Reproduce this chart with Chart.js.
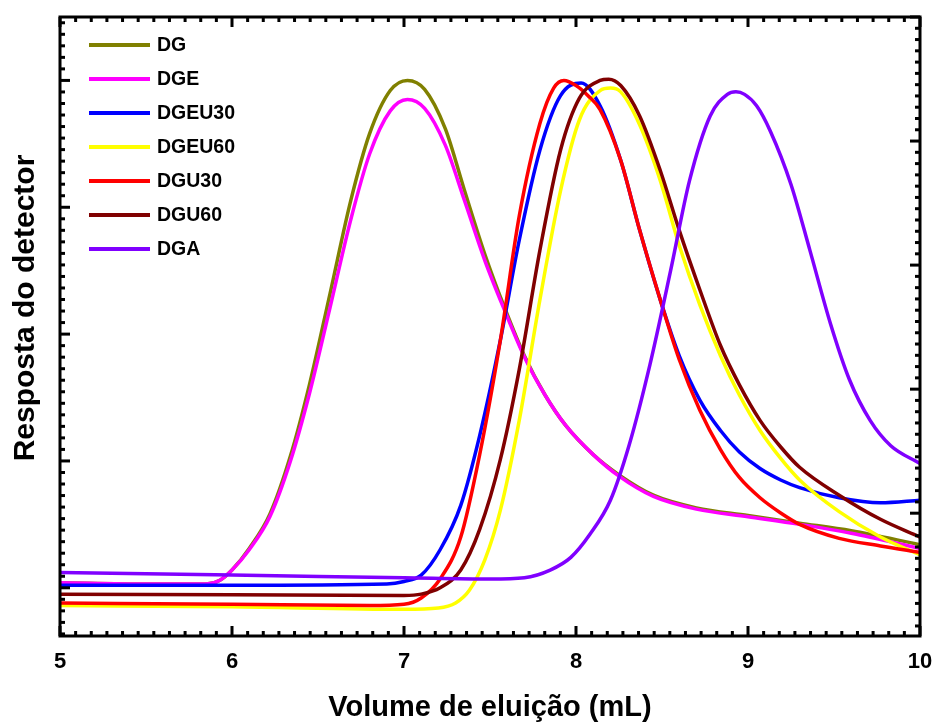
<!DOCTYPE html>
<html lang="pt">
<head>
<meta charset="UTF-8">
<title>Resposta do detector</title>
<script src="https://cdn.jsdelivr.net/npm/chart.js"></script>
<style>
  body { margin: 0; background: #fff; }
</style>
</head>
<body>
<canvas id="gpc" width="938" height="722"></canvas>
<script>
// series labels and colours
const seriesNames = ['DG', 'DGE', 'DGEU30', 'DGEU60', 'DGU30', 'DGU60', 'DGA'];
const seriesColors = ['#808000', '#ff00ff', '#0000ff', '#ffff00', '#ff0000', '#800000', '#8000ff'];

// x tick labels (mL)
const xTicks = [5, 6, 7, 8, 9, 10];

// elution volume (mL) / detector response
const dgX = [5.0, 5.5, 5.85, 5.93, 6.0, 6.1, 6.22, 6.34, 6.45, 6.57, 6.69, 6.8, 6.92, 7.02, 7.12, 7.24, 7.35, 7.47, 7.59, 7.7, 7.82, 7.94, 8.1, 8.25, 8.45, 8.7, 9.0, 9.3, 9.6, 10.0];
const dgY = [0.04, 0.03, 0.03, 0.06, 0.14, 0.31, 0.58, 1.04, 1.6, 2.32, 3.05, 3.58, 3.92, 4.00, 3.93, 3.62, 3.14, 2.63, 2.19, 1.83, 1.52, 1.28, 1.05, 0.89, 0.73, 0.63, 0.57, 0.51, 0.45, 0.34];

const dgeX = dgX;
const dgeY = [0.04, 0.03, 0.03, 0.06, 0.14, 0.30, 0.56, 1.0, 1.53, 2.21, 2.9, 3.42, 3.76, 3.85, 3.78, 3.49, 3.06, 2.58, 2.17, 1.82, 1.52, 1.28, 1.05, 0.88, 0.72, 0.62, 0.56, 0.50, 0.43, 0.31];

const dgeu30X = [5.0, 6.0, 6.9, 7.0, 7.1, 7.21, 7.33, 7.44, 7.56, 7.67, 7.79, 7.91, 8.03, 8.14, 8.26, 8.37, 8.49, 8.6, 8.72, 8.84, 8.95, 9.07, 9.19, 9.3, 9.53, 9.77, 10.0];
const dgeu30Y = [0.02, 0.02, 0.03, 0.05, 0.10, 0.30, 0.65, 1.20, 1.95, 2.74, 3.45, 3.88, 3.98, 3.80, 3.37, 2.82, 2.27, 1.83, 1.48, 1.24, 1.07, 0.94, 0.85, 0.79, 0.71, 0.67, 0.69];

const dgeu60X = [5.0, 6.0, 7.0, 7.2, 7.3, 7.38, 7.47, 7.56, 7.67, 7.79, 7.91, 8.02, 8.14, 8.2, 8.26, 8.37, 8.49, 8.6, 8.72, 8.84, 8.95, 9.07, 9.19, 9.3, 9.53, 9.77, 10.0];
const dgeu60Y = [-0.14, -0.15, -0.17, -0.16, -0.12, -0.02, 0.22, 0.61, 1.32, 2.27, 3.13, 3.69, 3.92, 3.94, 3.91, 3.65, 3.21, 2.70, 2.23, 1.83, 1.52, 1.24, 1.02, 0.85, 0.60, 0.40, 0.26];

const dgu30X = [5.0, 6.0, 6.8, 7.0, 7.1, 7.21, 7.33, 7.44, 7.56, 7.67, 7.79, 7.87, 7.93, 8.0, 8.07, 8.14, 8.26, 8.37, 8.49, 8.6, 8.72, 8.84, 8.95, 9.07, 9.19, 9.3, 9.53, 9.77, 10.0];
const dgu30Y = [-0.12, -0.13, -0.14, -0.13, -0.08, 0.07, 0.40, 1.05, 1.95, 2.93, 3.66, 3.94, 4.00, 3.96, 3.88, 3.77, 3.37, 2.82, 2.27, 1.80, 1.40, 1.09, 0.87, 0.71, 0.59, 0.50, 0.39, 0.33, 0.28];

const dgu60X = [5.0, 6.0, 7.0, 7.1, 7.21, 7.33, 7.44, 7.56, 7.67, 7.79, 7.91, 8.02, 8.14, 8.19, 8.26, 8.37, 8.49, 8.6, 8.72, 8.84, 8.95, 9.07, 9.19, 9.3, 9.53, 9.77, 10.0];
const dgu60Y = [-0.05, -0.055, -0.06, -0.05, 0.0, 0.14, 0.46, 1.01, 1.72, 2.66, 3.45, 3.86, 4.00, 4.01, 3.96, 3.72, 3.29, 2.82, 2.35, 1.91, 1.60, 1.32, 1.11, 0.95, 0.73, 0.54, 0.40];

const dgaX = [5.0, 6.0, 7.0, 7.5, 7.7, 7.85, 7.97, 8.08, 8.2, 8.31, 8.43, 8.55, 8.66, 8.78, 8.88, 8.93, 8.98, 9.05, 9.13, 9.25, 9.36, 9.48, 9.59, 9.71, 9.83, 10.0];
const dgaY = [0.12, 0.10, 0.08, 0.07, 0.08, 0.14, 0.24, 0.42, 0.69, 1.13, 1.76, 2.50, 3.21, 3.72, 3.89, 3.91, 3.89, 3.80, 3.60, 3.18, 2.66, 2.08, 1.64, 1.32, 1.12, 0.98];

const seriesX = [dgX, dgeX, dgeu30X, dgeu60X, dgu30X, dgu60X, dgaX];
const seriesY = [dgY, dgeY, dgeu30Y, dgeu60Y, dgu30Y, dgu60Y, dgaY];

const FONT = '"Liberation Sans", Arial, sans-serif';
const yMin = -0.38, yMax = 4.5;
// right axis of the original has its own scale
const y2Min = -0.99, y2Max = 4.0;

const datasets = seriesNames.map((name, i) => ({
    label: name,
    data: seriesX[i].map((x, k) => ({ x: x, y: seriesY[i][k] })),
    borderColor: seriesColors[i],
    borderWidth: 3.5,
    pointRadius: 0,
    fill: false,
    cubicInterpolationMode: 'monotone',
    order: seriesNames.length - i   // later series drawn on top
}));

// frame, inward ticks, legend and y title
const framePlugin = {
    id: 'frame',
    afterDatasetsDraw(chart) {
        const ctx = chart.ctx;
        const a = chart.chartArea;
        const xs = chart.scales.x, ys = chart.scales.y;
        ctx.save();
        ctx.strokeStyle = '#000';
        ctx.lineWidth = 3;
        ctx.lineCap = 'butt';

        // x ticks (bottom and top)
        for (let v = 5; v <= 10; v++) {
            for (let m = 0; m < 11; m++) {
                const val = v + m / 11;
                if (val > 10.0001) break;
                const px = xs.getPixelForValue(val);
                const len = m === 0 ? 10 : 5;
                ctx.beginPath();
                ctx.moveTo(px, a.bottom); ctx.lineTo(px, a.bottom - len);
                ctx.moveTo(px, a.top); ctx.lineTo(px, a.top + len);
                ctx.stroke();
            }
        }
        // left ticks
        for (let k = Math.ceil(yMin * 11); k / 11 <= yMax; k++) {
            const py = ys.getPixelForValue(k / 11);
            const len = k % 11 === 0 ? 10 : 5;
            ctx.beginPath();
            ctx.moveTo(a.left, py); ctx.lineTo(a.left + len, py);
            ctx.stroke();
        }
        // right ticks
        const h = a.bottom - a.top;
        for (let k = Math.ceil(y2Min * 11); k / 11 <= y2Max; k++) {
            const py = a.bottom - (k / 11 - y2Min) / (y2Max - y2Min) * h;
            const len = k % 11 === 0 ? 10 : 5;
            ctx.beginPath();
            ctx.moveTo(a.right, py); ctx.lineTo(a.right - len, py);
            ctx.stroke();
        }
        ctx.strokeRect(a.left, a.top, a.right - a.left, a.bottom - a.top);

        // legend
        ctx.font = 'bold 19.5px ' + FONT;
        ctx.textBaseline = 'middle';
        ctx.fillStyle = '#000';
        chart.data.datasets.forEach((ds, i) => {
            const y = 45 + i * 34;
            ctx.strokeStyle = ds.borderColor;
            ctx.lineWidth = 4;
            ctx.beginPath();
            ctx.moveTo(89, y); ctx.lineTo(150, y);
            ctx.stroke();
            ctx.fillText(ds.label, 157, y + 1);
        });

        // y title
        ctx.translate(26, 308);
        ctx.rotate(-Math.PI / 2);
        ctx.textAlign = 'center';
        ctx.font = 'bold 30px ' + FONT;
        ctx.fillText('Resposta do detector', 0, 0);
        ctx.restore();
    }
};

new Chart(document.getElementById('gpc'), {
    type: 'line',
    data: { datasets: datasets },
    options: {
        responsive: false,
        animation: false,
        devicePixelRatio: 1,
        layout: { padding: { top: 17, right: 18, left: 0, bottom: 0 } },
        plugins: { legend: { display: false }, tooltip: { enabled: false } },
        scales: {
            x: {
                type: 'linear',
                min: 5, max: 10,
                grid: { display: false },
                border: { display: false },
                afterBuildTicks: s => { s.ticks = xTicks.map(v => ({ value: v })); },
                afterFit: s => { s.height = 86; s.paddingRight = 0; s.paddingLeft = 0; },
                ticks: {
                    color: '#000',
                    padding: 5,
                    font: { family: FONT, size: 22, weight: 'bold' }
                },
                title: {
                    display: true,
                    text: 'Volume de eluição (mL)',
                    color: '#000',
                    padding: { top: 0, bottom: 0 },
                    font: { family: FONT, size: 29, weight: 'bold', lineHeight: 1.0 }
                }
            },
            y: {
                min: yMin, max: yMax,
                grid: { display: false },
                border: { display: false },
                ticks: { display: false },
                afterFit: s => { s.width = 60; }
            }
        }
    },
    plugins: [framePlugin]
});
</script>
</body>
</html>
